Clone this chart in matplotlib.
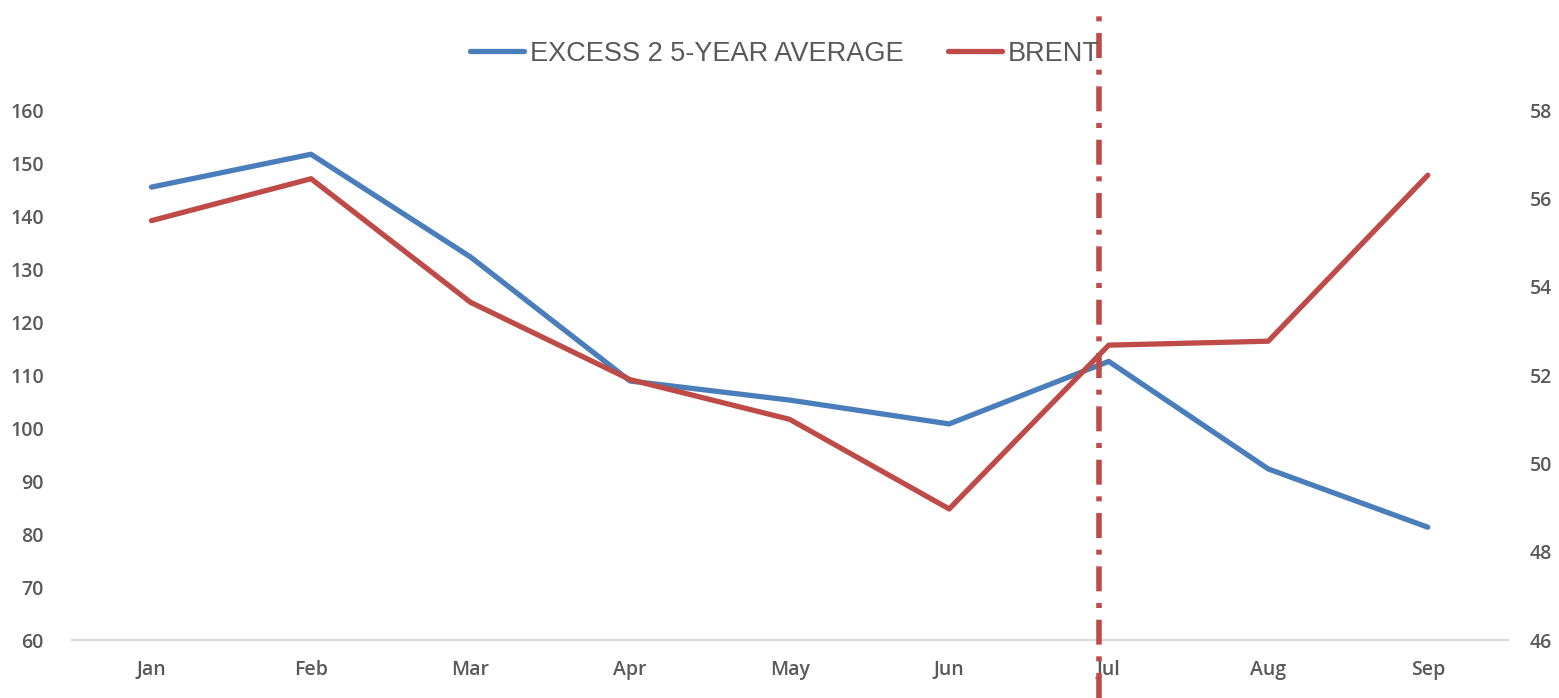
import matplotlib.pyplot as plt
import matplotlib.transforms as mtransforms

months = ['Jan', 'Feb', 'Mar', 'Apr', 'May', 'Jun', 'Jul', 'Aug', 'Sep']
excess = [145.5, 151.7, 132.3, 108.9, 105.3, 100.8, 112.6, 92.3, 81.3]
brent = [55.5, 56.45, 53.65, 51.9, 51.0, 48.97, 52.68, 52.77, 56.53]
marker_x = 5.94  # dash-dot line just left of Jul

blue = '#4A7EBB'
red = '#BE4B48'
gray = '#595959'
plt.rcParams['font.family'] = ['Liberation Sans', 'DejaVu Sans']

fig = plt.figure(figsize=(15.59, 6.98), dpi=100)
ax = fig.add_axes([0.046, 0.083, 0.921, 0.759])
ax2 = ax.twinx()

x = list(range(len(months)))
l1, = ax.plot(x, excess, color=blue, lw=3.8, solid_capstyle='round', label='EXCESS 2 5-YEAR AVERAGE')
l2, = ax2.plot(x, brent, color=red, lw=3.8, solid_capstyle='round', label='BRENT')

ax.set_xlim(-0.5, len(months) - 0.5)
ax.set_ylim(60, 160)
ax.set_yticks(range(60, 161, 10))
ax2.set_ylim(46, 58)
ax2.set_yticks(range(46, 59, 2))
ax.set_xticks(x)
ax.set_xticklabels(months)

for a in (ax, ax2):
    for s in a.spines.values():
        s.set_visible(False)
    a.tick_params(length=0, colors=gray, labelsize=14)
ax.spines['bottom'].set_visible(True)
ax.spines['bottom'].set_color('#D9D9D9')
ax.spines['bottom'].set_linewidth(1.5)
ax.tick_params(axis='y', pad=20)
ax.tick_params(axis='x', pad=14)
ax2.tick_params(axis='y', pad=16)
for lab in ax.get_yticklabels() + ax2.get_yticklabels() + ax.get_xticklabels():
    lab.set_fontweight('semibold')
    lab.set_family(['Open Sans', 'DejaVu Sans'])

trans = mtransforms.blended_transform_factory(ax.transData, fig.transFigure)
ax.plot([marker_x, marker_x], [0, 0.985], transform=trans, color=red, lw=4,
        dashes=(4.5, 2.1, 0.9, 2.1), clip_on=False, zorder=5)

fig.legend([l1, l2], ['EXCESS 2 5-YEAR AVERAGE', 'BRENT'], loc='center',
           bbox_to_anchor=(0.5035, 0.923), ncol=2, frameon=False, fontsize=19.5,
           labelcolor=gray, handlelength=2.0, handletextpad=0.2, columnspacing=1.65)

fig.savefig('out.png', dpi=100)
